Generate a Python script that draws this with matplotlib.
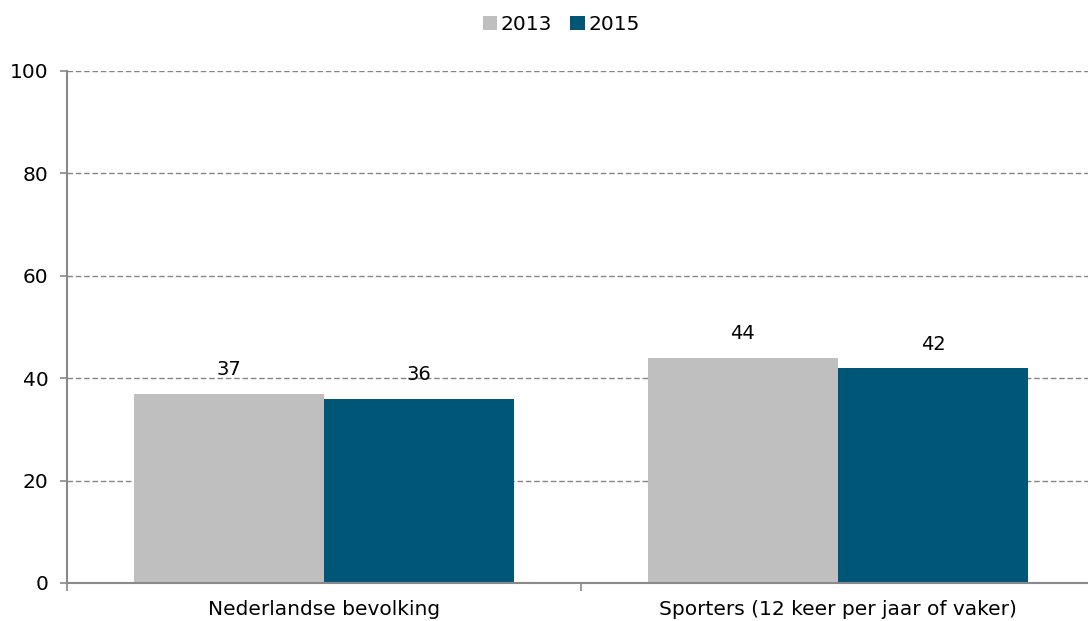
import matplotlib
matplotlib.use("Agg")
import matplotlib.pyplot as plt
import numpy as np

# Gegevens
categories = ["Nederlandse bevolking", "Sporters (12 keer per jaar of vaker)"]
years = ["2013", "2015"]
values_2013 = [37, 44]
values_2015 = [36, 42]

colors = ["#BFBFBF", "#005677"]
bar_w = 0.37

fig = plt.figure(figsize=(10.88, 6.21), dpi=100)
W, H = 1088, 621
ax = fig.add_axes([67 / W, (H - 583) / H, 1028 / W, (583 - 71) / H])

x = np.arange(len(categories))
b1 = ax.bar(x - bar_w / 2, values_2013, bar_w, color=colors[0], label=years[0], zorder=3)
b2 = ax.bar(x + bar_w / 2, values_2015, bar_w, color=colors[1], label=years[1], zorder=3)

for bars in (b1, b2):
    for rect in bars:
        h = rect.get_height()
        ax.text(rect.get_x() + rect.get_width() / 2, h + 2.8, f"{h:.0f}",
                ha="center", va="bottom", fontsize=14, color="black", zorder=5)

ax.set_xlim(-0.5, len(categories) - 0.5)
ax.set_ylim(0, 100)
ax.set_yticks(range(0, 101, 20))
ax.set_xticks(x)
ax.set_xticklabels(categories, fontsize=14.5)
ax.set_xticks(np.arange(-0.5, len(categories)), minor=True)
ax.tick_params(axis="x", which="major", length=0, pad=12)
ax.tick_params(axis="x", which="minor", length=6, width=1.2, color="#898989", direction="out")
ax.tick_params(axis="y", length=5, width=1.2, color="#898989", labelsize=14.5, pad=8.5)

ax.grid(axis="y", linestyle=(0, (4, 2)), color="#858585", linewidth=1.0, zorder=0)
for side in ["top", "right"]:
    ax.spines[side].set_visible(False)
for side in ["left", "bottom"]:
    ax.spines[side].set_color("#898989")
    ax.spines[side].set_linewidth(1.5)
ax.spines["bottom"].set_zorder(4)

fig.legend(loc="upper center", bbox_to_anchor=(0.516, 1.005), ncol=2, frameon=False,
           fontsize=14.5, handlelength=0.7, handleheight=0.7, handletextpad=0.2,
           columnspacing=0.9)

fig.savefig("out.png", dpi=100)
